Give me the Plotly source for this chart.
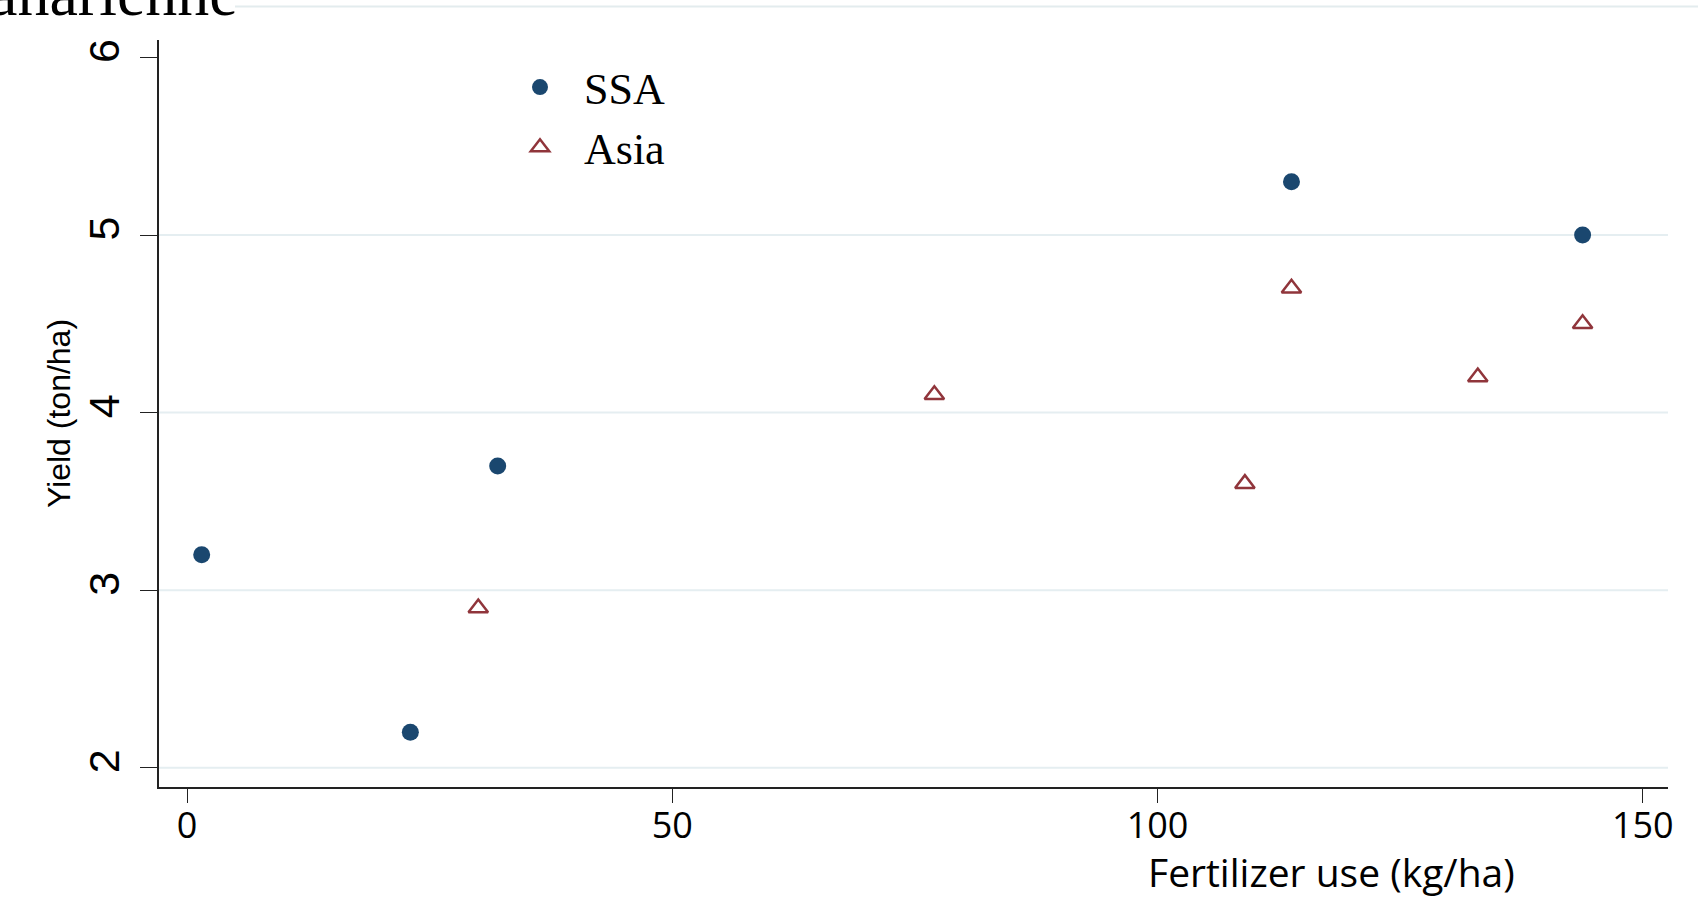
import plotly.graph_objects as go

# Data
ssa_fert = [1.5, 23, 32, 113.8, 143.8]
ssa_yield = [3.2, 2.2, 3.7, 5.3, 5.0]
asia_fert = [30, 77, 109, 113.8, 133, 143.8]
asia_yield = [2.9, 4.1, 3.6, 4.7, 4.2, 4.5]
x_ticks = [0, 50, 100, 150]
y_ticks = [2, 3, 4, 5, 6]

NAVY = "#1a476f"
MAROON = "#90353b"
GRID = "#e5eef1"

W, H = 1698, 904
L, R, T, B = 159, 30, 40, 117
PW, PH = W - L - R, H - T - B

def px_to_paper_x(px):
    return (px - L) / PW

def px_to_paper_y(py):
    return (H - B - py) / PH

fig = go.Figure()
fig.add_trace(go.Scatter(
    x=ssa_fert, y=ssa_yield, mode="markers", name="SSA",
    marker=dict(symbol="circle", size=17, color=NAVY),
))
fig.add_trace(go.Scatter(
    x=asia_fert, y=asia_yield, mode="markers", name="Asia",
    marker=dict(symbol="triangle-up-open", size=17, color=MAROON,
                line=dict(width=2.5, color=MAROON)),
))

fig.update_layout(
    width=W, height=H,
    margin=dict(l=L, r=R, t=T, b=B, autoexpand=False),
    paper_bgcolor="white", plot_bgcolor="white",
    showlegend=True,
    legend=dict(
        x=px_to_paper_x(496), y=px_to_paper_y(52), xanchor="left", yanchor="top",
        bgcolor="rgba(0,0,0,0)",
        font=dict(family="Liberation Serif", size=44, color="black"),
        itemwidth=78,
    ),
    xaxis=dict(
        range=[-2.9, 152.6], tickvals=x_ticks, ticktext=[str(v) for v in x_ticks],
        showgrid=False, zeroline=False, automargin=False,
        showline=True, linecolor="#222222", linewidth=1.5,
        ticks="outside", ticklen=14, tickwidth=1, tickcolor="#222222",
        tickfont=dict(family="Open Sans", size=36, color="black"),
        ticklabelstandoff=-8,
    ),
    yaxis=dict(
        range=[1.892, 6.098], tickvals=y_ticks, ticktext=[str(v) for v in y_ticks],
        showgrid=False, zeroline=False, automargin=False,
        showline=True, linecolor="#222222", linewidth=1.5,
        ticks="outside", ticklen=17, tickwidth=1, tickcolor="#222222",
        tickangle=-90,
        tickfont=dict(family="Liberation Sans", size=43, color="black"),
        ticklabelstandoff=4,
        title=dict(text="Yield (ton/ha)", standoff=0,
                   font=dict(family="Liberation Sans", size=32, color="black")),
    ),
)

# horizontal grid lines (Stata style), drawn under the data
for v in [2, 3, 4, 5]:
    fig.add_shape(type="line", xref="paper", yref="y", x0=0, x1=1, y0=v, y1=v,
                  line=dict(color=GRID, width=2), layer="below")

# thin frame line at the very top of the picture
fig.add_shape(type="line", xref="paper", yref="paper",
              x0=px_to_paper_x(235), x1=px_to_paper_x(1698),
              y0=px_to_paper_y(6.5), y1=px_to_paper_y(6.5),
              line=dict(color="#e3ecee", width=2))

# x axis title placed toward the right like in the reference
fig.add_annotation(text="Fertilizer use (kg/ha)", xref="paper", yref="paper",
                   x=px_to_paper_x(1331), y=px_to_paper_y(871),
                   xanchor="center", yanchor="middle", showarrow=False,
                   font=dict(family="Open Sans", size=39, color="black"))

# partially cut-off heading at the top-left
fig.add_annotation(text="anarlenne", xref="paper", yref="paper",
                   x=px_to_paper_x(240), y=px_to_paper_y(16),
                   xanchor="right", yanchor="bottom", yshift=-15, showarrow=False,
                   font=dict(family="Liberation Serif", size=64, color="black"))

fig.write_html("out.html", config={"displayModeBar": False},
               post_script="document.body.style.margin='0';")
